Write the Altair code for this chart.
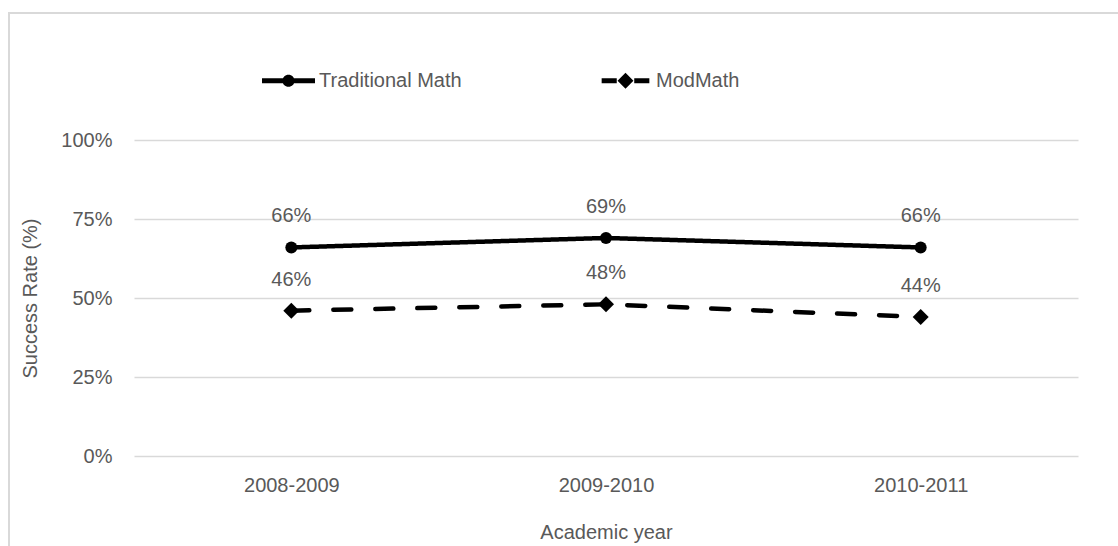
import altair as alt
import pandas as pd

# Academic years on the x axis
years = ["2008-2009", "2009-2010", "2010-2011"]
# Success rates (%) per course format
traditional_math = [66, 69, 66]
mod_math = [46, 48, 44]
series_names = ["Traditional Math", "ModMath"]

rows = []
for name, values in zip(series_names, [traditional_math, mod_math]):
    for year, value in zip(years, values):
        rows.append({"year": year, "series": name, "rate": value})
df = pd.DataFrame(rows)

GRID = "#d9d9d9"
TEXT = "#595959"
FONT = "Liberation Sans"
W, H = 944, 316
PAD = {"left": 134, "top": 140, "right": 40, "bottom": 90}

# Legend glyphs: a line with a centred marker, drawn in unit coordinates
trad_glyph = ("M-1,-0.09H1V0.09H-1Z "
              "M-0.23,0A0.23,0.23,0,1,1,0.23,0A0.23,0.23,0,1,1,-0.23,0Z")
mod_glyph = ("M-0.9,-0.09H-0.33V0.09H-0.9Z "
             "M-0.3,0L0,-0.3L0.3,0L0,0.3Z "
             "M0.33,-0.09H0.9V0.09H0.33Z")

x_enc = alt.X(
    "year:N", sort=years,
    scale=alt.Scale(type="point", padding=0.5),
    axis=alt.Axis(title="Academic year", labelAngle=0, labelPadding=19,
                  titlePadding=27, ticks=False, domain=False, grid=False),
)
y_enc = alt.Y(
    "rate:Q",
    scale=alt.Scale(domain=[0, 100], nice=False),
    axis=alt.Axis(title="Success Rate (%)", values=[0, 25, 50, 75, 100],
                  labelExpr="datum.value + '%'", labelPadding=22,
                  titlePadding=20, ticks=False, domain=False, grid=True,
                  gridColor=GRID, gridWidth=1.5),
)

base = alt.Chart(df).encode(x=x_enc, y=y_enc)

lines = base.mark_line(color="black", strokeWidth=4.5, strokeCap="round").encode(
    strokeDash=alt.StrokeDash(
        "series:N",
        scale=alt.Scale(domain=series_names, range=[[1, 0], [18, 24]]),
        legend=None,
    ),
    detail="series:N",
)

points = base.mark_point(filled=True, color="black", opacity=1, strokeWidth=0).encode(
    shape=alt.Shape(
        "series:N",
        scale=alt.Scale(domain=series_names, range=["circle", "diamond"]),
        legend=None,
    ),
    size=alt.Size(
        "series:N",
        scale=alt.Scale(domain=series_names, range=[144, 256]),
        legend=None,
    ),
)

# Carries the legend only: its glyphs combine line style and marker
legend_layer = base.mark_point(filled=True, color="black", opacity=0, strokeWidth=0).encode(
    shape=alt.Shape(
        "series:N",
        scale=alt.Scale(domain=series_names, range=[trad_glyph, mod_glyph]),
        legend=alt.Legend(
            title=None, orient="none", legendX=128, legendY=-86,
            direction="horizontal", columnPadding=137, labelOffset=4,
            labelFontSize=20, labelColor=TEXT, labelFont=FONT, labelLimit=0,
            symbolSize=2809, symbolFillColor="black", symbolStrokeWidth=0,
            symbolStrokeColor="black", symbolOpacity=1, padding=0,
        ),
    ),
)

labels = base.transform_calculate(
    label="format(datum.rate, 'd') + '%'"
).mark_text(dy=-31, fontSize=20, color=TEXT, font=FONT).encode(text="label:N")

# Light frame around the whole figure
frame = alt.Chart(pd.DataFrame({"k": [0]})).mark_rect(
    fillOpacity=0, stroke=GRID, strokeWidth=2
).encode(
    x=alt.value(-125), x2=alt.value(W + PAD["right"] + 10),
    y=alt.value(-127), y2=alt.value(H + PAD["bottom"] + 10),
)

chart = alt.layer(frame, lines, points, legend_layer, labels).resolve_scale(
    shape="independent"
).properties(
    width=W, height=H,
    autosize=alt.AutoSizeParams(type="none"),
    padding=PAD,
    background="white",
).configure_view(stroke=None).configure_axis(
    labelFont=FONT, titleFont=FONT, labelFontSize=20, titleFontSize=20,
    labelColor=TEXT, titleColor=TEXT, titleFontWeight="normal",
)

chart.save("out.html", embed_options={"renderer": "svg", "actions": False})
